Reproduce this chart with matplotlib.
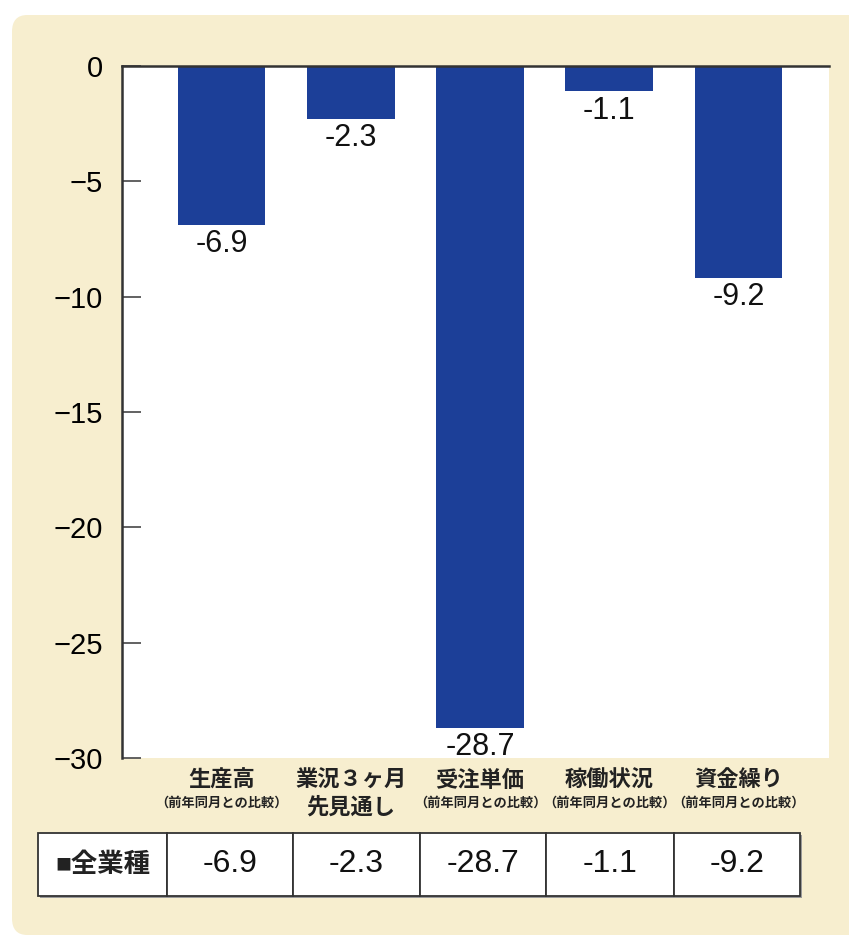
import matplotlib
matplotlib.use('Agg')
import matplotlib.pyplot as plt
from matplotlib.patches import FancyBboxPatch, Rectangle
import matplotlib.transforms as mtransforms

plt.rcParams['font.family'] = ['Liberation Sans', 'Noto Sans CJK JP', 'DejaVu Sans']

# データ
categories = ['生産高', '業況３ヶ月', '受注単価', '稼働状況', '資金繰り']
sub_labels = ['（前年同月との比較）', '先見通し', '（前年同月との比較）', '（前年同月との比較）', '（前年同月との比較）']
values = [-6.9, -2.3, -28.7, -1.1, -9.2]
row_label = '■全業種'
yticks = [0, -5, -10, -15, -20, -25, -30]

W, H = 849, 935
fig = plt.figure(figsize=(W / 100, H / 100), dpi=100)
fig.patch.set_facecolor('white')

beige = '#f7eecf'
bar_color = '#1c3f98'
line_color = '#333333'

# 背景パネル
panel = FancyBboxPatch((12 / W, 0.0), 1.2, 1 - 15 / H,
                       boxstyle='round,pad=0,rounding_size=0.018',
                       transform=fig.transFigure, facecolor=beige,
                       edgecolor='none', zorder=-5)
fig.patches.append(panel)

ax = fig.add_axes([122 / W, 1 - 758 / H, (829 - 122) / W, (758 - 66) / H])
ax.set_zorder(5)
ax.set_facecolor('white')
x = list(range(len(values)))
ax.bar(x, values, width=0.68, color=bar_color, zorder=2)
ax.set_xlim(-0.77, 4.70)
ax.set_ylim(-30, 0)

for sp in ['right', 'bottom']:
    ax.spines[sp].set_visible(False)
for sp in ['left', 'top']:
    ax.spines[sp].set_color(line_color)
    ax.spines[sp].set_linewidth(1.8)

ax.set_yticks(yticks)
ax.tick_params(axis='y', direction='in', length=14, width=1.3, color='#555555',
               pad=14, labelsize=21)
ax.set_xticks([])

for xi, v in zip(x, values):
    ax.annotate(f'{v}', (xi, v), xytext=(0, -3), textcoords='offset points',
                ha='center', va='top', fontsize=22, color='#111111', zorder=4,
                annotation_clip=False)

# カテゴリーラベル
trans = mtransforms.blended_transform_factory(ax.transData, fig.transFigure)
for xi, c, s in zip(x, categories, sub_labels):
    ax.text(xi, 1 - 781 / H, c, transform=trans, ha='center', va='center',
            fontsize=16, fontweight='bold', color='#222222')
    if s == '先見通し':
        ax.text(xi, 1 - 808 / H, s, transform=trans, ha='center', va='center',
                fontsize=16, fontweight='bold', color='#222222')
    else:
        ax.text(xi, 1 - 803 / H, s, transform=trans, ha='center', va='center',
                fontsize=9.5, fontweight='bold', color='#222222')

# 表
col_edges = [38, 167, 293, 420, 546, 674, 800]
top, bot = 833, 896
cells = [row_label] + [f'{v}' for v in values]
for i, txt in enumerate(cells):
    x0, x1 = col_edges[i], col_edges[i + 1]
    fig.patches.append(Rectangle((x0 / W + 1.5 / W, 1 - (bot + 2) / H), (x1 - x0) / W, (bot - top) / H,
                                 transform=fig.transFigure, facecolor='#9a9a9a',
                                 edgecolor='none', zorder=1))
    fig.patches.append(Rectangle((x0 / W, 1 - bot / H), (x1 - x0) / W, (bot - top) / H,
                                 transform=fig.transFigure, facecolor='white',
                                 edgecolor=line_color, lw=1.3, zorder=2))
    if i == 0:
        fig.text((x0 + x1) / 2 / W, 1 - (top + bot) / 2 / H, txt, ha='center', va='center',
                 fontsize=19, fontweight='bold', color='#222222', zorder=3)
    else:
        fig.text((x0 + x1) / 2 / W, 1 - (top + bot) / 2 / H, txt, ha='center', va='center',
                 fontsize=23, color='#111111', zorder=3)

fig.savefig('out.png', dpi=100)
